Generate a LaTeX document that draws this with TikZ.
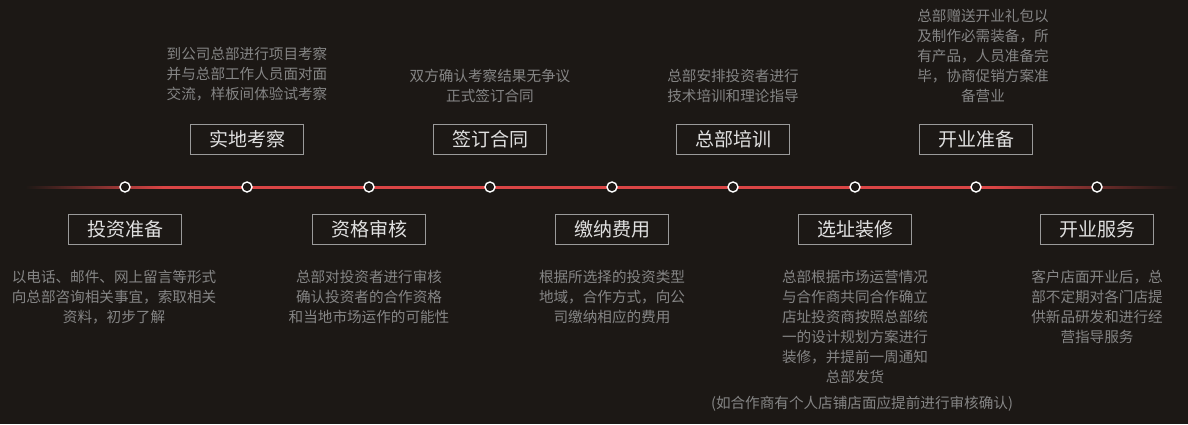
\documentclass[tikz,border=0pt]{standalone}
\usepackage{fontspec}
\newfontfamily\cjk{Noto Sans CJK SC}
\usetikzlibrary{positioning}
\definecolor{bgDark}{HTML}{1C1815}
\definecolor{lineRed}{HTML}{DA4545}
\definecolor{descGray}{HTML}{858585}
\definecolor{titleGray}{HTML}{E0E0E0}
\definecolor{boxGray}{HTML}{9A9A9A}
\pgfdeclarehorizontalshading{redline}{100bp}{color(0bp)=(bgDark); color(25bp)=(bgDark);
  color(31bp)=(lineRed); color(67bp)=(lineRed); color(75bp)=(bgDark); color(100bp)=(bgDark)}

\begin{document}
\begin{tikzpicture}[
  x=1pt, y=1pt,
  milestone/.style={circle, draw=white, fill=bgDark, line width=1.4pt,
                    minimum size=10pt, inner sep=0pt},
  stage/.style={draw=boxGray, line width=0.8pt, text=titleGray,
                font=\cjk\fontsize{19}{22}\selectfont,
                minimum width=113pt, minimum height=30pt, inner sep=0pt},
  detail/.style={text=descGray, font=\cjk\fontsize{14.6}{20}\selectfont,
                 align=center, inner sep=0pt}
]
  \fill[bgDark] (0,0) rectangle (1188,-424);
  \useasboundingbox (0,0) rectangle (1188,-424);

  % timeline, faded at both ends
  \shade[shading=redline] (25,-186) rectangle (1178,-188);

  \foreach \i/\x in {1/125, 2/247, 3/369, 4/490, 5/612, 6/733, 7/855, 8/976, 9/1097}
    \node[milestone] (d\i) at (\x,-187) {};

  % stages below the line
  \node[stage, below=21pt of d1] (b1) {投资准备};
  \node[stage, below=21pt of d3] (b3) {资格审核};
  \node[stage, below=21pt of d5] (b5) {缴纳费用};
  \node[stage, below=21pt of d7] (b7) {选址装修};
  \node[stage, below=21pt of d9] (b9) {开业服务};

  % stages above the line
  \node[stage, above=27pt of d2] (b2) {实地考察};
  \node[stage, above=27pt of d4] (b4) {签订合同};
  \node[stage, above=27pt of d6] (b6) {总部培训};
  \node[stage, above=27pt of d8] (b8) {开业准备};

  \node[detail, below=25pt of b1, xshift=-11pt] (t1) {以电话、邮件、网上留言等形式\\向总部咨询相关事宜，索取相关\\资料，初步了解};
  \node[detail, below=25pt of b3] (t3) {总部对投资者进行审核\\确认投资者的合作资格\\和当地市场运作的可能性};
  \node[detail, below=25pt of b5] (t5) {根据所选择的投资类型\\地域，合作方式，向公\\司缴纳相应的费用};
  \node[detail, below=25pt of b7] (t7) {总部根据市场运营情况\\与合作商共同合作确立\\店址投资商按照总部统\\一的设计规划方案进行\\装修，并提前一周通知\\总部发货};
  \node[detail, below=12pt of t7, xshift=7pt] (n7) {(如合作商有个人店铺店面应提前进行审核确认)};
  \node[detail, below=25pt of b9] (t9) {客户店面开业后，总\\部不定期对各门店提\\供新品研发和进行经\\营指导服务};

  \node[detail, above=22pt of b2] (t2) {到公司总部进行项目考察\\并与总部工作人员面对面\\交流，样板间体验试考察};
  \node[detail, above=21pt of b4] (t4) {双方确认考察结果无争议\\正式签订合同};
  \node[detail, above=21pt of b6] (t6) {总部安排投资者进行\\技术培训和理论指导};
  \node[detail, above=21pt of b8, xshift=7pt] (t8) {总部赠送开业礼包以\\及制作必需装备，所\\有产品，人员准备完\\毕，协商促销方案准\\备营业};
\end{tikzpicture}
\end{document}
